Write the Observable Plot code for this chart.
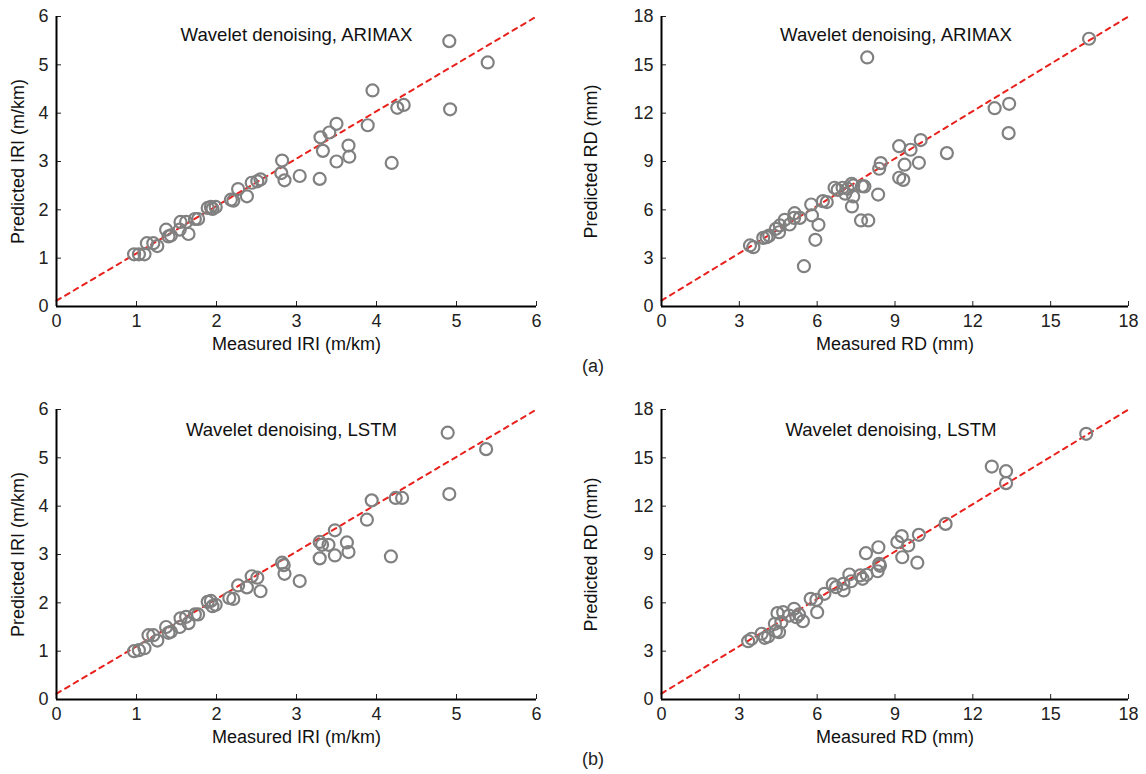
<!DOCTYPE html>
<html>
<head>
<meta charset="utf-8">
<script src="https://cdn.jsdelivr.net/npm/d3@7"></script>
<script src="https://cdn.jsdelivr.net/npm/@observablehq/plot@0.6"></script>
<style>
  body { margin: 0; background: #fff; }
  #wrap { position: relative; width: 1146px; height: 774px; font-family: "Liberation Sans", Arial, sans-serif; }
  .panel { position: absolute; }
  .tag { position: absolute; font-size: 18px; color: #222; transform: translateX(-50%); }
</style>
</head>
<body>
<div id="wrap"></div>
<script>
// Measured vs predicted IRI (m/km), ARIMAX
const iriArimax = [[0.97,1.08],[1.03,1.08],[1.10,1.08],[1.13,1.31],[1.21,1.31],[1.26,1.25],[1.37,1.59],[1.40,1.45],[1.43,1.47],[1.54,1.59],[1.55,1.75],[1.62,1.75],[1.65,1.50],[1.73,1.81],[1.77,1.81],[1.89,2.04],[1.93,2.06],[1.95,2.02],[1.99,2.06],[2.18,2.21],[2.21,2.19],[2.27,2.43],[2.38,2.28],[2.44,2.56],[2.51,2.59],[2.55,2.63],[2.82,3.02],[2.81,2.76],[2.85,2.61],[3.04,2.70],[3.29,2.64],[3.30,3.50],[3.33,3.22],[3.41,3.60],[3.50,3.78],[3.50,3.00],[3.65,3.33],[3.66,3.10],[3.89,3.75],[3.95,4.47],[4.19,2.97],[4.26,4.11],[4.34,4.17],[4.91,5.49],[4.92,4.08],[5.39,5.05]];
// Measured vs predicted IRI (m/km), LSTM
const iriLstm = [[0.97,1.00],[1.03,1.02],[1.10,1.06],[1.15,1.33],[1.21,1.33],[1.26,1.22],[1.37,1.50],[1.40,1.38],[1.43,1.40],[1.54,1.50],[1.55,1.68],[1.62,1.71],[1.65,1.58],[1.73,1.76],[1.77,1.76],[1.89,2.02],[1.93,2.04],[1.95,1.93],[1.99,1.96],[2.16,2.10],[2.21,2.08],[2.27,2.36],[2.38,2.32],[2.44,2.55],[2.51,2.52],[2.55,2.24],[2.82,2.83],[2.84,2.78],[2.85,2.60],[3.04,2.45],[3.29,2.92],[3.29,3.26],[3.32,3.20],[3.40,3.20],[3.48,3.50],[3.48,2.98],[3.63,3.25],[3.65,3.05],[3.88,3.72],[3.94,4.12],[4.18,2.96],[4.24,4.17],[4.32,4.17],[4.89,5.52],[4.91,4.25],[5.37,5.18]];
// Measured vs predicted RD (mm), ARIMAX
const rdArimax = [[3.41,3.79],[3.54,3.68],[3.92,4.26],[4.05,4.30],[4.15,4.40],[4.41,4.82],[4.53,4.61],[4.56,5.03],[4.75,5.38],[4.94,5.09],[5.11,5.50],[5.13,5.79],[5.33,5.50],[5.49,2.50],[5.77,6.33],[5.80,5.65],[5.93,4.14],[6.05,5.07],[6.22,6.54],[6.37,6.48],[6.67,7.37],[6.79,7.24],[6.98,7.37],[7.08,7.00],[7.18,7.31],[7.33,7.62],[7.39,7.51],[7.39,6.83],[7.34,6.21],[7.73,7.47],[7.82,7.45],[7.69,5.34],[7.97,5.34],[7.93,15.46],[8.35,6.95],[8.39,8.55],[8.45,8.90],[9.16,9.95],[9.16,7.99],[9.32,7.86],[9.37,8.80],[9.60,9.73],[9.92,8.92],[9.99,10.33],[11.00,9.52],[12.84,12.31],[13.40,12.58],[13.38,10.76],[16.48,16.62]];
// Measured vs predicted RD (mm), LSTM
const rdLstm = [[3.34,3.62],[3.47,3.77],[3.86,4.08],[3.98,3.83],[4.11,3.91],[4.37,4.70],[4.41,4.24],[4.53,4.18],[4.47,5.36],[4.69,5.42],[4.62,4.80],[4.92,5.21],[5.11,5.63],[5.20,5.11],[5.30,5.28],[5.45,4.86],[5.75,6.25],[5.97,6.19],[6.00,5.42],[6.28,6.56],[6.60,7.14],[6.73,6.97],[7.01,7.18],[7.02,6.77],[7.24,7.76],[7.31,7.34],[7.66,7.70],[7.75,7.49],[7.91,7.74],[7.88,9.08],[8.36,9.45],[8.33,7.96],[8.39,8.42],[8.42,8.30],[9.09,9.77],[9.26,10.14],[9.28,8.83],[9.51,9.56],[9.86,8.49],[9.92,10.22],[10.95,10.90],[12.73,14.46],[13.28,14.17],[13.28,13.43],[16.37,16.49]];

// Fit lines (start, end) in data units
const iriFit = [[0, 0.12], [6, 6.0]];
const rdFit = [[0, 0.37], [18, 18.0]];

const iriTicks = [0, 1, 2, 3, 4, 5, 6];
const rdTicks = [0, 3, 6, 9, 12, 15, 18];

const titles = ["Wavelet denoising, ARIMAX", "Wavelet denoising, LSTM"];
const xLabels = ["Measured IRI (m/km)", "Measured RD (mm)"];
const yLabels = ["Predicted IRI (m/km)", "Predicted RD (mm)"];
const tags = ["(a)", "(b)"];

const FONT = "Liberation Sans, Arial, sans-serif";

function panel({data, fit, ticks, max, title, xLabel, yLabel, left, top, width, marginLeft, marginRight, titleDx, titleDy}) {
  const height = 360;
  const chart = Plot.plot({
    width, height,
    marginLeft, marginRight, marginTop: 16, marginBottom: 54,
    style: {fontFamily: FONT, fontSize: "18px", color: "#222", background: "transparent", overflow: "visible"},
    x: {domain: [0, max], ticks, tickFormat: d => d},
    y: {domain: [0, max], ticks, tickFormat: d => d},
    marks: [
      Plot.line(fit, {x: d => d[0], y: d => d[1], stroke: "#e8211d", strokeWidth: 2, strokeDasharray: "5,5"}),
      Plot.dot(data, {x: d => d[0], y: d => d[1], r: 6, stroke: "#808080", strokeWidth: 2.2, fill: "none"}),
      Plot.axisX({ticks, tickSize: -5, tickPadding: 13, tickFormat: d => d, label: null, fontSize: 18}),
      Plot.axisY({ticks, tickSize: -5, tickPadding: 13, tickFormat: d => d, label: null, fontSize: 18}),
      Plot.ruleY([0], {stroke: "#000", strokeWidth: 2}),
      Plot.ruleX([0], {stroke: "#000", strokeWidth: 2}),
      Plot.text([title], {frameAnchor: "top", lineAnchor: "middle", dy: titleDy, dx: titleDx, text: d => d, fontSize: 18.6, fill: "#111"}),
      Plot.text([xLabel], {frameAnchor: "bottom", dy: 43, text: d => d, fontSize: 18, fill: "#111"}),
      Plot.text([yLabel], {frameAnchor: "left", textAnchor: "middle", dx: -(marginLeft - 18), rotate: -90, text: d => d, fontSize: 18, fill: "#111"})
    ]
  });
  chart.classList.add("panel");
  chart.style.left = left + "px";
  chart.style.top = top + "px";
  document.getElementById("wrap").appendChild(chart);
}

const rows = [
  {top: 0, iri: iriArimax, rd: rdArimax, title: titles[0], dxL: 0, dxR: 1, dy: 19},
  {top: 393, iri: iriLstm, rd: rdLstm, title: titles[1], dxL: -5, dxR: -4, dy: 21}
];
rows.forEach((row, i) => {
  panel({data: row.iri, fit: iriFit, ticks: iriTicks, max: 6, title: row.title, xLabel: xLabels[0], yLabel: yLabels[0],
         left: 0, top: row.top, width: 570, marginLeft: 56, marginRight: 34, titleDx: row.dxL, titleDy: row.dy});
  panel({data: row.rd, fit: rdFit, ticks: rdTicks, max: 18, title: row.title, xLabel: xLabels[1], yLabel: yLabels[1],
         left: 573, top: row.top, width: 573, marginLeft: 88, marginRight: 18, titleDx: row.dxR, titleDy: row.dy});
  const t = document.createElement("div");
  t.className = "tag";
  t.textContent = tags[i];
  t.style.left = "593px";
  t.style.top = (row.top + 356) + "px";
  document.getElementById("wrap").appendChild(t);
});
</script>
</body>
</html>
